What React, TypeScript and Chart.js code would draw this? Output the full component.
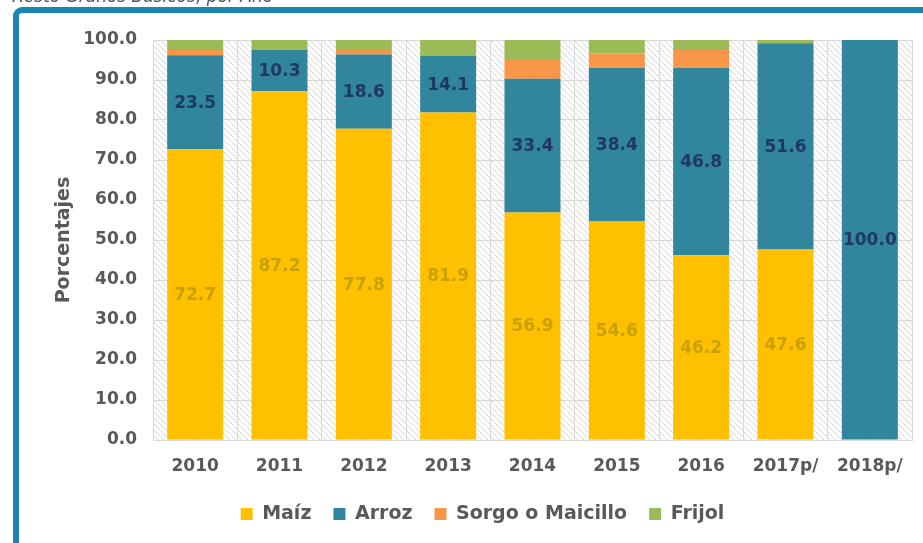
import React, { useEffect, useRef } from "react";
import { Chart, registerables } from "chart.js";

Chart.register(...registerables);

const categories = ["2010", "2011", "2012", "2013", "2014", "2015", "2016", "2017p/", "2018p/"];
const maiz = [72.7, 87.2, 77.8, 81.9, 56.9, 54.6, 46.2, 47.6, 0];
const arroz = [23.5, 10.3, 18.6, 14.1, 33.4, 38.4, 46.8, 51.6, 100.0];
const sorgo = [1.3, 0, 1.1, 0, 4.7, 3.6, 4.5, 0, 0];
const frijol = [2.5, 2.5, 2.5, 4.0, 5.0, 3.4, 2.5, 0.8, 0];
const seriesNames = ["Maíz", "Arroz", "Sorgo o Maicillo", "Frijol"];
const yTitle = "Porcentajes";
const topText = "Resto Granos Básicos, por Año";

const FONT = '"DejaVu Sans", Verdana, sans-serif';
const GRAY = "#595959";

function makeHatch(): CanvasPattern | string {
  const c = document.createElement("canvas");
  c.width = 6;
  c.height = 6;
  const g = c.getContext("2d");
  if (!g) return "#fff";
  g.fillStyle = "#ffffff";
  g.fillRect(0, 0, 6, 6);
  g.strokeStyle = "#d6d6d6";
  g.lineWidth = 1;
  g.beginPath();
  g.moveTo(-1, -1);
  g.lineTo(7, 7);
  g.moveTo(-4, 2);
  g.lineTo(4, 10);
  g.moveTo(2, -4);
  g.lineTo(10, 4);
  g.stroke();
  const p = g.createPattern(c, "repeat");
  return p || "#fff";
}

const decorPlugin = {
  id: "decor",
  beforeDraw(chart: any) {
    const { ctx, chartArea } = chart;
    ctx.save();
    ctx.strokeStyle = "#1B85B1";
    ctx.lineWidth = 6;
    ctx.beginPath();
    const r = 6;
    ctx.moveTo(16, 600);
    ctx.lineTo(16, 10 + r);
    ctx.arcTo(16, 10, 16 + r, 10, r);
    ctx.lineTo(1000, 10);
    ctx.stroke();
    ctx.fillStyle = "#44546A";
    ctx.font = `italic 17px ${FONT}`;
    ctx.textBaseline = "alphabetic";
    ctx.textAlign = "left";
    ctx.fillText(topText, 12, 2);
    ctx.fillStyle = makeHatch();
    ctx.fillRect(chartArea.left, chartArea.top, chartArea.right - chartArea.left, chartArea.bottom - chartArea.top);
    ctx.restore();
  },
};

const labelPlugin = {
  id: "barLabels",
  afterDatasetsDraw(chart: any) {
    const ctx = chart.ctx;
    ctx.save();
    ctx.font = `bold 17px ${FONT}`;
    ctx.textAlign = "center";
    ctx.textBaseline = "middle";
    const colors = ["#C9A000", "#1F3864"];
    [0, 1].forEach((di) => {
      const meta = chart.getDatasetMeta(di);
      meta.data.forEach((el: any, i: number) => {
        const v = chart.data.datasets[di].data[i];
        if (!v) return;
        const { x, y, base } = el.getProps(["x", "y", "base"], true);
        ctx.fillStyle = colors[di];
        ctx.fillText(Number(v).toFixed(1), x, (y + base) / 2 + 1);
      });
    });
    ctx.restore();
  },
};

export default function App() {
  const ref = useRef<HTMLCanvasElement>(null);
  useEffect(() => {
    if (!ref.current) return;
    const common = { barPercentage: 0.664, categoryPercentage: 1, borderWidth: 0 };
    const chart = new Chart(ref.current, {
      type: "bar",
      data: {
        labels: categories,
        datasets: [
          { label: seriesNames[0], data: maiz, backgroundColor: "#FFC000", ...common },
          { label: seriesNames[1], data: arroz, backgroundColor: "#31859C", ...common },
          { label: seriesNames[2], data: sorgo, backgroundColor: "#F79646", ...common },
          { label: seriesNames[3], data: frijol, backgroundColor: "#9BBB59", ...common },
        ],
      },
      options: {
        responsive: false,
        animation: false,
        devicePixelRatio: 1,
        layout: { padding: { left: 53, right: 11, top: 40, bottom: 9.5 } },
        plugins: {
          tooltip: { enabled: false },
          legend: {
            position: "bottom",
            labels: {
              font: { family: FONT, size: 19, weight: "bold" },
              color: GRAY,
              boxWidth: 12,
              boxHeight: 12,
              padding: 22,
            },
          },
        },
        scales: {
          x: {
            stacked: true,
            grid: { color: "#D9D9D9", drawTicks: false, offset: true },
            border: { color: "#D9D9D9", width: 1 },
            ticks: { font: { family: FONT, size: 17, weight: "bold" }, color: GRAY, padding: 16, maxRotation: 0 },
            afterFit: (s: any) => {
              s.height = 42.5;
            },
          },
          y: {
            stacked: true,
            min: 0,
            max: 100,
            grid: { color: "#D9D9D9", drawTicks: false },
            border: { display: false },
            ticks: {
              stepSize: 10,
              font: { family: FONT, size: 17, weight: "bold" },
              color: GRAY,
              padding: 16,
              callback: (v: any) => Number(v).toFixed(1),
            },
            title: {
              display: true,
              text: yTitle,
              font: { family: FONT, size: 19, weight: "bold" },
              color: GRAY,
              padding: 0,
            },
            afterFit: (s: any) => {
              s.width = 100;
            },
          },
        },
      },
      plugins: [decorPlugin, labelPlugin],
    });
    return () => chart.destroy();
  }, []);
  return (
    <div style={{ position: "fixed", left: 0, top: 0, width: 923, height: 543, background: "#fff", overflow: "hidden" }}>
      <canvas ref={ref} width={923} height={543} style={{ display: "block", width: 923, height: 543 }} />
    </div>
  );
}
